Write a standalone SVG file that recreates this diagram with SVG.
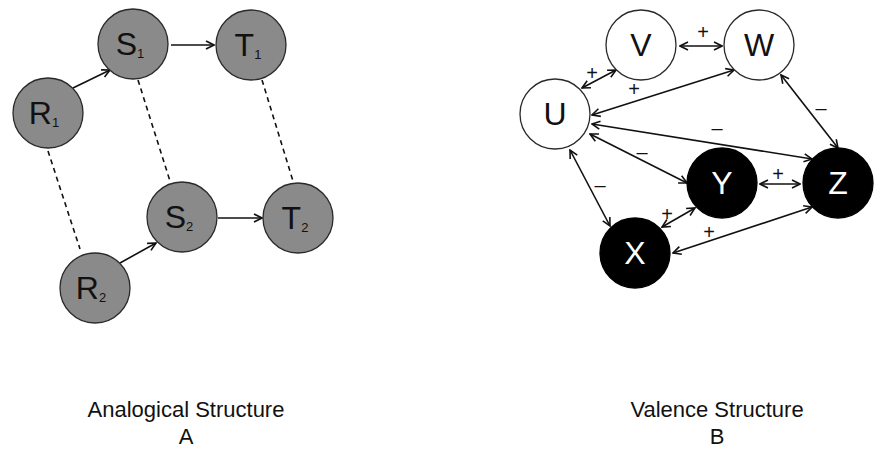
<svg xmlns="http://www.w3.org/2000/svg" width="876" height="451" viewBox="0 0 876 451">
  <style>
    .gray { fill: #8a8a8a; stroke: #2a2a2a; stroke-width: 1.3; }
    .white { fill: #fff; stroke: #2a2a2a; stroke-width: 1.3; }
    .black { fill: #000; stroke: #000; stroke-width: 1.3; }
    .lbl { font-family: "Liberation Sans", Arial, sans-serif; font-size: 32px; text-anchor: middle; }
    .sub { font-size: 13px; }
    .lt { fill: #fff; }
    .dk { fill: #111; }
    .edge { stroke: #111; stroke-width: 1.6; fill: none; }
    .dash { stroke: #111; stroke-width: 1.6; stroke-dasharray: 5 4; fill: none; }
    .sign { font-family: "Liberation Sans", Arial, sans-serif; font-size: 20px; text-anchor: middle; fill: #111; }
    .cap { font-family: "Liberation Sans", Arial, sans-serif; font-size: 22px; text-anchor: middle; fill: #111; }
  </style>
  <defs>
    <marker id="head" viewBox="0 0 10 10" refX="9" refY="5" markerWidth="10" markerHeight="10" markerUnits="userSpaceOnUse" orient="auto-start-reverse">
      <path d="M1,1 L9,5 L1,9" fill="none" stroke="#111" stroke-width="1.6"/>
    </marker>
  </defs>

  <!-- Analogical structure: connectors -->
  <g id="analogy-edges">
    <line class="edge" x1="73" y1="88" x2="110" y2="70" marker-end="url(#head)"/>
    <line class="edge" x1="171" y1="45" x2="214" y2="45" marker-end="url(#head)"/>
    <line class="edge" x1="120" y1="263" x2="156" y2="243" marker-end="url(#head)"/>
    <line class="edge" x1="218" y1="218" x2="262" y2="218" marker-end="url(#head)"/>
    <line class="dash" x1="48" y1="151" x2="80" y2="249"/>
    <line class="dash" x1="138" y1="80" x2="170" y2="181"/>
    <line class="dash" x1="262" y1="80" x2="293" y2="181"/>
  </g>

  <!-- Analogical structure: nodes -->
  <g id="R1"><circle class="gray" cx="48" cy="113" r="35"/><text class="lbl dk" x="44" y="124">R<tspan class="sub" dy="3">1</tspan></text></g>
  <g id="S1"><circle class="gray" cx="133" cy="44" r="35"/><text class="lbl dk" x="130" y="55">S<tspan class="sub" dy="3">1</tspan></text></g>
  <g id="T1"><circle class="gray" cx="251" cy="45" r="35"/><text class="lbl dk" x="248" y="56">T<tspan class="sub" dy="3">1</tspan></text></g>
  <g id="S2"><circle class="gray" cx="182" cy="217" r="35"/><text class="lbl dk" x="179" y="228">S<tspan class="sub" dy="3">2</tspan></text></g>
  <g id="T2"><circle class="gray" cx="298" cy="218" r="35"/><text class="lbl dk" x="295" y="229">T<tspan class="sub" dy="3">2</tspan></text></g>
  <g id="R2"><circle class="gray" cx="95" cy="288" r="35"/><text class="lbl dk" x="91" y="299">R<tspan class="sub" dy="3">2</tspan></text></g>

  <!-- Valence structure: connectors -->
  <g id="valence-edges">
    <line class="edge" x1="582" y1="88" x2="616" y2="70" marker-start="url(#head)" marker-end="url(#head)"/>
    <line class="edge" x1="680" y1="46" x2="722" y2="46" marker-start="url(#head)" marker-end="url(#head)"/>
    <line class="edge" x1="592" y1="115" x2="734" y2="70" marker-start="url(#head)" marker-end="url(#head)"/>
    <line class="edge" x1="781" y1="75" x2="838" y2="148" marker-start="url(#head)" marker-end="url(#head)"/>
    <line class="edge" x1="592" y1="124" x2="812" y2="159" marker-start="url(#head)" marker-end="url(#head)"/>
    <line class="edge" x1="590" y1="134" x2="687" y2="183" marker-start="url(#head)" marker-end="url(#head)"/>
    <line class="edge" x1="570" y1="150" x2="610" y2="226" marker-start="url(#head)" marker-end="url(#head)"/>
    <line class="edge" x1="760" y1="184" x2="800" y2="184" marker-start="url(#head)" marker-end="url(#head)"/>
    <line class="edge" x1="662" y1="227" x2="695" y2="208" marker-start="url(#head)" marker-end="url(#head)"/>
    <line class="edge" x1="673" y1="253" x2="812" y2="207" marker-start="url(#head)" marker-end="url(#head)"/>
    <text class="sign" x="592" y="80">+</text>
    <text class="sign" x="703" y="39">+</text>
    <text class="sign" x="634" y="96">+</text>
    <text class="sign" x="821" y="115">–</text>
    <text class="sign" x="717" y="135">–</text>
    <text class="sign" x="642" y="159">–</text>
    <text class="sign" x="600" y="192">–</text>
    <text class="sign" x="778" y="181">+</text>
    <text class="sign" x="667" y="221">+</text>
    <text class="sign" x="709" y="239">+</text>
  </g>

  <!-- Valence structure: nodes -->
  <g id="U"><circle class="white" cx="555" cy="114" r="35"/><text class="lbl dk" x="555" y="125">U</text></g>
  <g id="V"><circle class="white" cx="641" cy="45" r="35"/><text class="lbl dk" x="641" y="56">V</text></g>
  <g id="W"><circle class="white" cx="759" cy="45" r="35"/><text class="lbl dk" x="759" y="56">W</text></g>
  <g id="Y"><circle class="black" cx="722" cy="183" r="35"/><text class="lbl lt" x="722" y="194">Y</text></g>
  <g id="Z"><circle class="black" cx="838" cy="183" r="35"/><text class="lbl lt" x="838" y="194">Z</text></g>
  <g id="X"><circle class="black" cx="635" cy="253" r="35"/><text class="lbl lt" x="635" y="264">X</text></g>

  <!-- Captions -->
  <g id="captions">
    <text class="cap" x="186" y="417">Analogical Structure</text>
    <text class="cap" x="186" y="444">A</text>
    <text class="cap" x="717" y="417">Valence Structure</text>
    <text class="cap" x="717" y="444">B</text>
  </g>
</svg>
